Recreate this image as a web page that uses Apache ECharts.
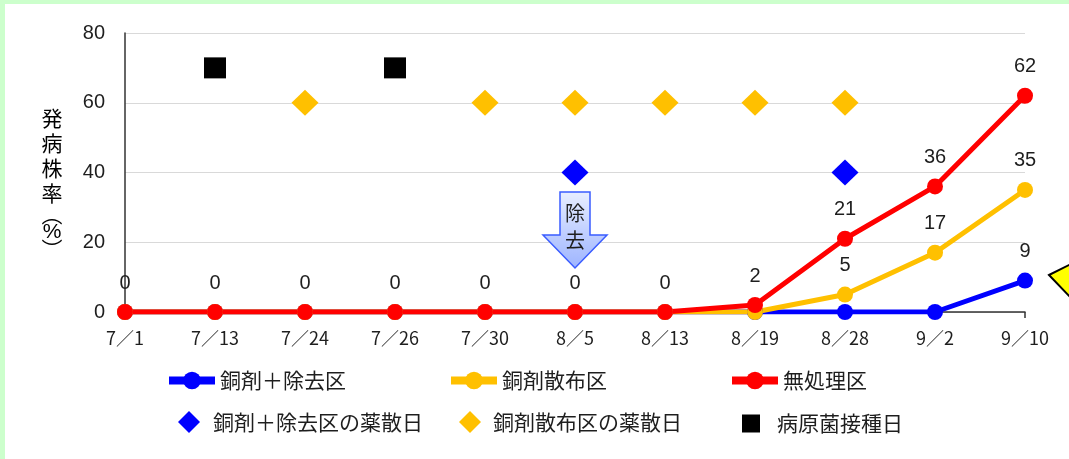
<!DOCTYPE html>
<html>
<head>
<meta charset="utf-8">
<script src="https://cdn.jsdelivr.net/npm/echarts@6/dist/echarts.min.js"></script>
<style>
  html, body { margin: 0; padding: 0; background: #ccffcc; width: 1069px; height: 459px; overflow: hidden; }
  #chart { position: absolute; left: 5px; top: 4px; width: 1064px; height: 455px; background: #ffffff; }
</style>
</head>
<body>
<div id="chart"></div>
<script>
// Survey dates (x categories)
const dates = ['7/1', '7/13', '7/24', '7/26', '7/30', '8/5', '8/13', '8/19', '8/28', '9/2', '9/10'];

// Disease incidence (%) per plot
const copperRemoval = [0, 0, 0, 0, 0, 0, 0, 0, 0, 0, 9];
const copperSpray   = [0, 0, 0, 0, 0, 0, 0, 0, 5, 17, 35];
const untreated     = [0, 0, 0, 0, 0, 0, 0, 2, 21, 36, 62];

// Dates whose value is printed above the point (null = every point)
const copperRemovalLabelled = ['9/10'];
const copperSprayLabelled   = ['8/28', '9/2', '9/10'];
const untreatedLabelled     = null;

// Event markers: dates and the height they are drawn at
const removalSprayDays  = ['8/5', '8/28'];
const removalSprayLevel = 40;
const copperSprayDays   = ['7/24', '7/30', '8/5', '8/13', '8/19', '8/28'];
const copperSprayLevel  = 60;
const inoculationDays   = ['7/13', '7/26'];
const inoculationLevel  = 70;

// Y axis ticks
const yMin = 0, yMax = 80, yStep = 20;

// Axis title, one character per line
const yTitle = ['発', '病', '株', '率', '︵', '%', '︶'];

const BLUE = '#0000ff', GOLD = '#ffc000', RED = '#ff0000';
const CJK = '"Noto Sans CJK JP", sans-serif';
const LATIN = '"Liberation Sans", Arial, sans-serif';
const TEXT = '#1e1e1e';

const names = {
  blue: '銅剤＋除去区',
  gold: '銅剤散布区',
  red: '無処理区',
  blueDay: '銅剤＋除去区の薬散日',
  goldDay: '銅剤散布区の薬散日',
  inoc: '病原菌接種日'
};

function lineSeries(name, values, color, labelled) {
  return {
    type: 'line',
    name: name,
    data: values.map((v, i) => ({
      value: v,
      label: { show: labelled === null || labelled.indexOf(dates[i]) >= 0 }
    })),
    symbol: 'circle',
    symbolSize: 16,
    color: color,
    lineStyle: { width: 5, color: color },
    itemStyle: { color: color, opacity: 1 },
    label: {
      position: 'top', distance: 11,
      fontSize: 20, fontFamily: LATIN, color: TEXT
    },
    emphasis: { disabled: true },
    animation: false
  };
}

function markerSeries(name, days, level, symbol, size, color) {
  return {
    type: 'scatter',
    name: name,
    data: days.map(d => [d, level]),
    symbol: symbol,
    symbolSize: size,
    itemStyle: { color: color, opacity: 1 },
    emphasis: { disabled: true },
    animation: false
  };
}

function legendFor(name, left, top, w, h, pad) {
  return {
    data: [name], left: left, top: top, padding: 0,
    itemWidth: w, itemHeight: h, selectedMode: false,
    lineStyle: { width: 8 },
    itemStyle: { opacity: 1 },
    textStyle: { fontSize: 21, fontFamily: CJK, color: TEXT, padding: [0, 0, 0, pad] }
  };
}

const chart = echarts.init(document.getElementById('chart'), null, { renderer: 'canvas' });

const option = {
  animation: false,
  grid: { left: 120, right: 44, top: 29, bottom: 147 },
  xAxis: {
    type: 'category',
    data: dates,
    boundaryGap: false,
    axisLine: { lineStyle: { color: '#333', width: 1.5 } },
    axisTick: { show: true, length: 6, lineStyle: { color: '#333', width: 1.5 } },
    axisLabel: {
      interval: 0, margin: 17, fontSize: 18, fontFamily: CJK, color: TEXT,
      formatter: v => v.replace('/', '／')
    },
    splitLine: { show: false }
  },
  yAxis: {
    type: 'value',
    min: yMin, max: yMax, interval: yStep,
    axisLine: { show: true, lineStyle: { color: '#333', width: 1.5 } },
    axisTick: { show: false },
    axisLabel: { margin: 20, fontSize: 20, fontFamily: LATIN, color: TEXT },
    splitLine: { lineStyle: { color: '#d9d9d9', width: 1.2 } }
  },
  legend: [
    legendFor(names.blue, 160, 366, 46, 22, 0),
    legendFor(names.gold, 442, 366, 46, 22, 0),
    legendFor(names.red, 723, 366, 46, 22, 0),
    legendFor(names.blueDay, 173, 407, 22, 22, 8),
    legendFor(names.goldDay, 454, 407, 22, 22, 7),
    legendFor(names.inoc, 737, 409, 18, 18, 12)
  ],
  series: [
    lineSeries(names.blue, copperRemoval, BLUE, copperRemovalLabelled),
    lineSeries(names.gold, copperSpray, GOLD, copperSprayLabelled),
    lineSeries(names.red, untreated, RED, untreatedLabelled),
    markerSeries(names.blueDay, removalSprayDays, removalSprayLevel, 'diamond', [27, 26], BLUE),
    markerSeries(names.goldDay, copperSprayDays, copperSprayLevel, 'diamond', [27, 26], GOLD),
    markerSeries(names.inoc, inoculationDays, inoculationLevel, 'rect', [22, 21], '#000000')
  ]
};

chart.setOption(option);

// Annotations placed from the axes: removal arrow, axis title, call-out pointer
(function addAnnotations() {
  const cx = chart.convertToPixel({ xAxisIndex: 0 }, '8/5');
  const base = chart.convertToPixel({ yAxisIndex: 0 }, 0);
  const top = base - 120, neck = base - 77, tip = base - 44;
  const shaft = 15, head = 32;

  const rich = {
    c: { fontSize: 21, lineHeight: 25, fontFamily: CJK, color: TEXT },
    p: { fontSize: 21, lineHeight: 17, fontFamily: CJK, color: TEXT },
    q: { fontSize: 21, lineHeight: 18, fontFamily: LATIN, color: TEXT }
  };
  const titleText = yTitle.map(ch => {
    const key = (ch === '︵' || ch === '︶') ? 'p' : (ch === '%' ? 'q' : 'c');
    return '{' + key + '|' + ch + '}';
  }).join('\n');

  chart.setOption({
    graphic: [
      {
        type: 'polygon',
        silent: true,
        shape: {
          points: [
            [cx - shaft, top], [cx + shaft, top], [cx + shaft, neck], [cx + head, neck],
            [cx, tip], [cx - head, neck], [cx - shaft, neck]
          ]
        },
        style: {
          fill: new echarts.graphic.LinearGradient(0, 0, 0, 1, [
            { offset: 0, color: '#e8eeff' },
            { offset: 1, color: '#9db4ff' }
          ]),
          stroke: '#3a5cff',
          lineWidth: 1.5
        },
        z: 50
      },
      {
        type: 'text',
        silent: true,
        x: cx, y: base - 99,
        style: { text: '除', fontSize: 20, fontFamily: CJK, fill: TEXT, align: 'center', verticalAlign: 'middle' },
        z: 51
      },
      {
        type: 'text',
        silent: true,
        x: cx, y: base - 72,
        style: { text: '去', fontSize: 20, fontFamily: CJK, fill: TEXT, align: 'center', verticalAlign: 'middle' },
        z: 51
      },
      {
        type: 'text',
        silent: true,
        x: 47, y: 102,
        style: { text: titleText, rich: rich, align: 'center', verticalAlign: 'top' },
        z: 51
      },
      {
        type: 'polygon',
        silent: true,
        shape: { points: [[1044, 271], [1068, 259], [1068, 296]] },
        style: { fill: '#ffff00', stroke: '#000000', lineWidth: 2 },
        z: 51
      }
    ]
  });
})();
</script>
</body>
</html>
